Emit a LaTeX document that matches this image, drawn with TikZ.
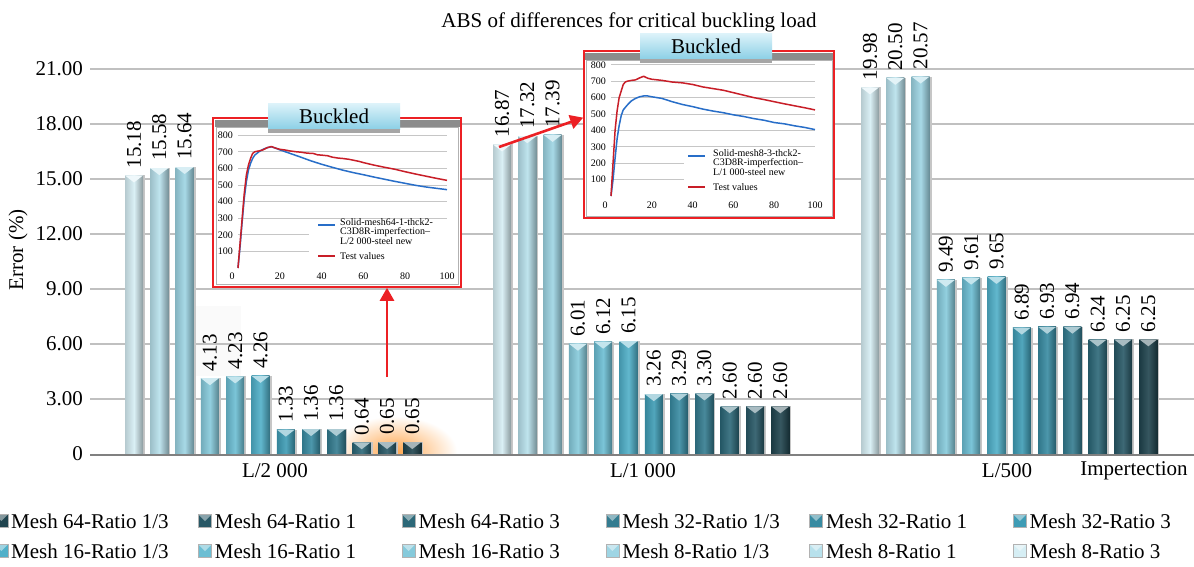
\documentclass[tikz,border=0pt]{standalone}
\usepackage{fontspec}
\setmainfont{Liberation Serif}
\usepackage{tikz}
\usetikzlibrary{arrows.meta,positioning,calc}
\definecolor{c1}{RGB}{214,238,244}
\definecolor{c2}{RGB}{184,225,236}
\definecolor{c3}{RGB}{158,213,228}
\definecolor{c4}{RGB}{134,202,219}
\definecolor{c5}{RGB}{108,190,211}
\definecolor{c6}{RGB}{80,176,201}
\definecolor{c7}{RGB}{62,156,181}
\definecolor{c8}{RGB}{56,139,162}
\definecolor{c9}{RGB}{52,124,144}
\definecolor{c10}{RGB}{44,104,120}
\definecolor{c11}{RGB}{40,88,102}
\definecolor{c12}{RGB}{32,68,78}
\definecolor{gridgray}{RGB}{192,192,192}
\definecolor{axisgray}{RGB}{128,128,128}
\definecolor{arrowred}{RGB}{236,32,36}
\definecolor{simblue}{RGB}{40,110,200}
\definecolor{testred}{RGB}{200,30,40}
\definecolor{tabtop}{RGB}{222,243,250}
\definecolor{tabbot}{RGB}{140,208,230}
\newcommand{\lab}{\fontsize{21}{24}\selectfont}
\newcommand{\insf}{\fontsize{10}{9}\selectfont}

\begin{document}
\begin{tikzpicture}[x=1pt, y=-1pt,
  every node/.style={inner sep=0pt, font=\lab},
  grid/.style={gridgray, line width=2pt},
  redarrow/.style={arrowred, line width=2.6pt, -{Triangle[length=13pt,width=14pt]}},
  insetbox/.style={draw=arrowred, line width=1.6pt, fill=white},
  tab/.style={top color=tabtop, bottom color=tabbot},
  swatch/.style={minimum size=13pt, draw=gray!60, line width=0.4pt,
    path picture={\fill[white, opacity=0.45] (path picture bounding box.north west) -- (path picture bounding box.north east) -- (path picture bounding box.center) -- cycle;}}]
  \useasboundingbox (0,0) rectangle (1194,566);
  \fill[white] (0,0) rectangle (1194,566);

  \node (title) at (629,22) {ABS of differences for critical buckling load};
  \node[rotate=90] (ylab) at (18,250) {Error (\%)};

  \begin{scope}
    \clip (300,400) rectangle (470,454);
    \shade[inner color=orange!70, outer color=white] (395,452) ellipse (62 and 36);
  \end{scope}
  \fill[gray!4] (196,306) rectangle (241,376);

  \foreach \k/\t in {1/3.00,2/6.00,3/9.00,4/12.00,5/15.00,6/18.00,7/21.00}
    \draw[grid] (90,{454-55.05*\k}) -- (1194,{454-55.05*\k});
  \foreach \k/\t in {0/0,1/3.00,2/6.00,3/9.00,4/12.00,5/15.00,6/18.00,7/21.00}
    \node[anchor=east] (y\k) at (83,{454-55.05*\k}) {\t};

  \begin{scope}[shift={(0,454)}, y=18.35pt]
    \foreach \g/\vals in {0/{15.18,15.58,15.64,4.13,4.23,4.26,1.33,1.36,1.36,0.64,0.65,0.65},
                          1/{16.87,17.32,17.39,6.01,6.12,6.15,3.26,3.29,3.30,2.60,2.60,2.60},
                          2/{19.98,20.50,20.57,9.49,9.61,9.65,6.89,6.93,6.94,6.24,6.25,6.25}}{
      \foreach \v [count=\i] in \vals {
        \pgfmathsetmacro\bx{125+368*\g+25.3*(\i-1)}
        \fill[gray!45] (\bx+2,0) rectangle (\bx+20,\v);
        \shade[left color=c\i!85!black, right color=c\i!65!black, middle color=c\i!90!white] (\bx,0) rectangle (\bx+18,\v);
        \fill[c\i!40!white] (\bx,\v) -- (\bx+18,\v) -- ([yshift=-7pt]\bx+9,\v) -- cycle;
        \node[rotate=90, anchor=west] at ([yshift=7pt]\bx+9,\v) {\v};
      }
    }
  \end{scope}
  \draw[axisgray, line width=2.5pt] (90,455) -- (1194,455);

  \node (cat1) at (275,471) {L/2 000};
  \node (cat2) at (643,471) {L/1 000};
  \node (cat3) at (1007,471) {L/500};
  \node (cat4) at (1134,471) {Impertection};

  % inset L/2000
  \node[insetbox, minimum width=248pt, minimum height=169pt] (ins1) at (337,202.5) {};
  \fill[gray!50!black!60] (215,119.5) rectangle (459.5,127);
  \draw[gray!60, line width=0.8pt] (216,127) rectangle (458,284);
  \node[tab, minimum width=132pt, minimum height=26pt] (tab1) at (334,116) {Buckled};
  \fill[gray!70] (268,129) rectangle (400,133);
  \begin{scope}[shift={(238,268)}, x=2.09pt, y=0.166pt]
    \foreach \t in {100,200,...,800}{
      \draw[gray!45, line width=0.8pt] (0,\t) -- (100,\t);
      \node[anchor=east, font=\insf] at ([xshift=-5pt]0,\t) {\t};
    }
    \foreach \t in {20,40,...,100}
      \node[font=\insf] at ([yshift=-8pt]\t,0) {\t};
    \node[font=\insf] at ([yshift=-8pt,xshift=-6pt]0,0) {0};
    \fill[white] (34,30) rectangle (101,260);
    \draw[simblue, line width=1.5pt, line join=round] (0,0) -- (1,130) -- (2,280) -- (3,420) -- (4,520) -- (5,590) -- (6,630) -- (7,660) -- (8,680) -- (10,700) -- (12,715) -- (14,725) -- (16,730) -- (18,722) -- (20,712) -- (25,690) -- (30,668) -- (35,645) -- (40,625) -- (45,607) -- (50,590) -- (55,575) -- (60,562) -- (65,548) -- (70,535) -- (75,522) -- (80,510) -- (85,498) -- (90,488) -- (95,480) -- (100,472);
    \draw[testred, line width=1.5pt, line join=round] (0,0) -- (1,150) -- (2,300) -- (3,450) -- (4,560) -- (5,620) -- (6,660) -- (7,690) -- (8,700) -- (9,703) -- (10,705) -- (12,712) -- (14,725) -- (16,732) -- (18,722) -- (20,715) -- (22,712) -- (25,705) -- (28,700) -- (30,698) -- (33,692) -- (36,690) -- (38,682) -- (40,680) -- (43,676) -- (45,668) -- (48,662) -- (50,660) -- (53,655) -- (55,650) -- (58,642) -- (60,635) -- (65,620) -- (70,607) -- (75,595) -- (80,580) -- (85,566) -- (90,553) -- (95,540) -- (100,528);
  \end{scope}
  \draw[simblue, line width=1.5pt] (318,225) -- (335,225);
  \node[anchor=north west, align=left, font=\insf] (leg1) at (340,218) {Solid-mesh64-1-thck2-\\C3D8R-imperfection--\\L/2 000-steel new};
  \draw[testred, line width=1.5pt] (318,256) -- (335,256);
  \node[anchor=west, font=\insf] (test1) at (340,256) {Test values};

  % inset L/1000
  \node[insetbox, minimum width=250pt, minimum height=167pt] (ins2) at (709,134.5) {};
  \fill[gray!50!black!60] (585,52.5) rectangle (833,60);
  \draw[gray!60, line width=0.8pt] (586,60) rectangle (832,216);
  \node[tab, minimum width=132pt, minimum height=26pt] (tab2) at (706,46) {Buckled};
  \fill[gray!70] (640,59) rectangle (772,63);
  \begin{scope}[shift={(611,196)}, x=2.04pt, y=0.164pt]
    \foreach \t in {100,200,...,800}{
      \draw[gray!45, line width=0.8pt] (0,\t) -- (100,\t);
      \node[anchor=east, font=\insf] at ([xshift=-5pt]0,\t) {\t};
    }
    \foreach \t in {20,40,...,100}
      \node[font=\insf] at ([yshift=-9pt]\t,0) {\t};
    \node[font=\insf] at ([yshift=-9pt,xshift=-6pt]0,0) {0};
    \fill[white] (36,30) rectangle (101,260);
    \draw[simblue, line width=1.5pt, line join=round] (0,0) -- (1,100) -- (2,230) -- (3,350) -- (4,430) -- (5,490) -- (6,525) -- (8,555) -- (10,580) -- (12,595) -- (14,605) -- (16,610) -- (18,610) -- (20,605) -- (25,595) -- (30,575) -- (35,558) -- (40,545) -- (45,530) -- (50,518) -- (55,508) -- (60,495) -- (65,485) -- (70,472) -- (75,462) -- (80,448) -- (85,440) -- (90,428) -- (95,418) -- (100,405);
    \draw[testred, line width=1.5pt, line join=round] (0,0) -- (1,200) -- (2,400) -- (3,520) -- (4,600) -- (5,640) -- (6,680) -- (7,695) -- (8,700) -- (10,705) -- (12,708) -- (14,720) -- (16,730) -- (18,718) -- (20,712) -- (25,705) -- (30,695) -- (35,690) -- (40,680) -- (45,665) -- (50,655) -- (55,645) -- (60,630) -- (65,615) -- (70,600) -- (75,588) -- (80,575) -- (85,562) -- (90,550) -- (95,538) -- (100,525);
  \end{scope}
  \draw[simblue, line width=1.5pt] (688,156) -- (705,156);
  \node[anchor=north west, align=left, font=\insf] (leg2) at (713,149) {Solid-mesh8-3-thck2-\\C3D8R-imperfection--\\L/1 000-steel new};
  \draw[testred, line width=1.5pt] (688,187) -- (705,187);
  \node[anchor=west, font=\insf] (test2) at (713,187) {Test values};

  \coordinate (a1) at (387,377);
  \draw[redarrow] (a1) -- (ins1.south -| a1);
  \coordinate (a2) at (499,147);
  \draw[redarrow] (a2) -- ($(ins2.north west)!0.4!(ins2.south west)$);

  \foreach \t [count=\k from 0] in {Mesh 64-Ratio 1/3,Mesh 64-Ratio 1,Mesh 64-Ratio 3,Mesh 32-Ratio 1/3,Mesh 32-Ratio 1,Mesh 32-Ratio 3,
      Mesh 16-Ratio 1/3,Mesh 16-Ratio 1,Mesh 16-Ratio 3,Mesh 8-Ratio 1/3,Mesh 8-Ratio 1,Mesh 8-Ratio 3}{
    \pgfmathtruncatemacro\col{mod(\k,6)}
    \pgfmathtruncatemacro\row{div(\k,6)}
    \pgfmathtruncatemacro\ci{12-\k}
    \node[anchor=west] (leg\k) at ({11+203.7*\col},{521+30*\row}) {\t};
    \node[swatch, fill=c\ci, left=3pt of leg\k] (sw\k) {};
  }
\end{tikzpicture}
\end{document}
